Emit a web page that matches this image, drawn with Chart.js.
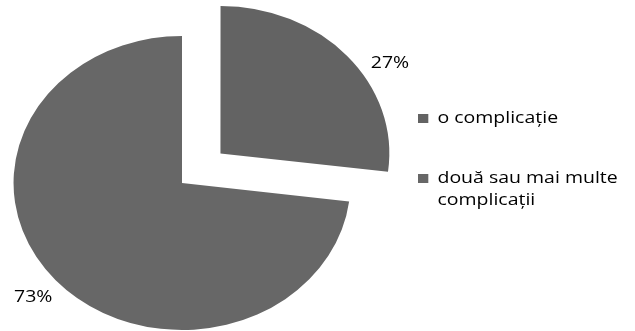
<!DOCTYPE html>
<html>
<head>
<meta charset="utf-8">
<script src="https://cdn.jsdelivr.net/npm/chart.js@4"></script>
<style>
  html, body { margin: 0; padding: 0; background: #fff; }
  #wrap { position: relative; width: 635px; height: 331px; overflow: hidden; }
  #legend {
    position: absolute; left: 418px; top: 0;
    transform: scaleX(1.146); transform-origin: 0 0;
    font-family: "Open Sans", sans-serif; font-size: 17px; line-height: 22px; color: #000;
  }
  .item { position: absolute; left: 0; white-space: nowrap; }
  .item .box { position: absolute; left: 0; top: 8px; width: 9px; height: 9px; }
  .item .txt { position: absolute; left: 17px; top: 0; width: 165px; white-space: normal; }
</style>
</head>
<body>
<div id="wrap">
  <canvas id="pie"></canvas>
  <div id="legend"></div>
</div>
<script>
// DATA
const categories = ["o complicație", "două sau mai multe complicații"];
const values = [27, 73];
const valueLabels = ["27%", "73%"];
const sliceColors = ["#636363", "#676767"];

// stretch of the original picture (it is wider than it is tall)
const SX = 1.146;

// === PLUGINS ===
const stretchPlugin = {
  id: "stretch",
  beforeDatasetsDraw(chart) {
    const { ctx, chartArea } = chart;
    const cx = (chartArea.left + chartArea.right) / 2;
    ctx.save();
    ctx.translate(cx, 0);
    ctx.scale(SX, 1);
    ctx.translate(-cx, 0);
  },
  afterDatasetsDraw(chart) {
    chart.ctx.restore();
  }
};

const outsideLabels = {
  id: "outsideLabels",
  afterDatasetsDraw(chart, args, opts) {
    const { ctx, chartArea } = chart;
    const cx = (chartArea.left + chartArea.right) / 2;
    const meta = chart.getDatasetMeta(0);
    meta.data.forEach((arc, i) => {
      const p = arc.getProps(["x", "y", "startAngle", "endAngle", "outerRadius", "circumference"], true);
      const mid = (p.startAngle + p.endAngle) / 2;
      const off = (arc.options.offset || 0) / 4;
      const fix = 1 - Math.sin(Math.min(Math.PI, p.circumference || 0));
      const t = off * (1 + fix);
      const a = mid + (opts.nudge[i] || 0) * Math.PI / 180;
      const d = p.outerRadius + opts.gap;
      const ux = p.x + Math.cos(mid) * t + Math.cos(a) * d;
      const uy = p.y + Math.sin(mid) * t + Math.sin(a) * d;
      const px = cx + (ux - cx) * SX;
      ctx.save();
      ctx.translate(px, uy);
      ctx.scale(SX, 1);
      ctx.fillStyle = "#000";
      ctx.font = '17px "Open Sans", sans-serif';
      ctx.textAlign = "center";
      ctx.textBaseline = "middle";
      ctx.fillText(valueLabels[i], 0, 0);
      ctx.restore();
    });
  }
};

// === CHART ===
new Chart(document.getElementById("pie"), {
  type: "pie",
  data: {
    labels: categories,
    datasets: [{
      data: values,
      backgroundColor: sliceColors,
      borderWidth: 0,
      offset: [179, 0],
      hoverOffset: 0
    }]
  },
  options: {
    responsive: true,
    maintainAspectRatio: false,
    animation: false,
    radius: 147,
    layout: { padding: { left: 0, right: 271, top: 35, bottom: 0 } },
    plugins: {
      legend: { display: false },
      tooltip: { enabled: false },
      outsideLabels: { gap: 26, nudge: [10, 0] }
    }
  },
  plugins: [stretchPlugin, outsideLabels]
});

// === LEGEND ===
const legendTops = [106, 166];
const legend = document.getElementById("legend");
categories.forEach((name, i) => {
  const item = document.createElement("div");
  item.className = "item";
  item.style.top = legendTops[i] + "px";
  item.innerHTML = `<span class="box" style="background:${sliceColors[i]}"></span><span class="txt">${name}</span>`;
  legend.appendChild(item);
});
</script>
</body>
</html>
